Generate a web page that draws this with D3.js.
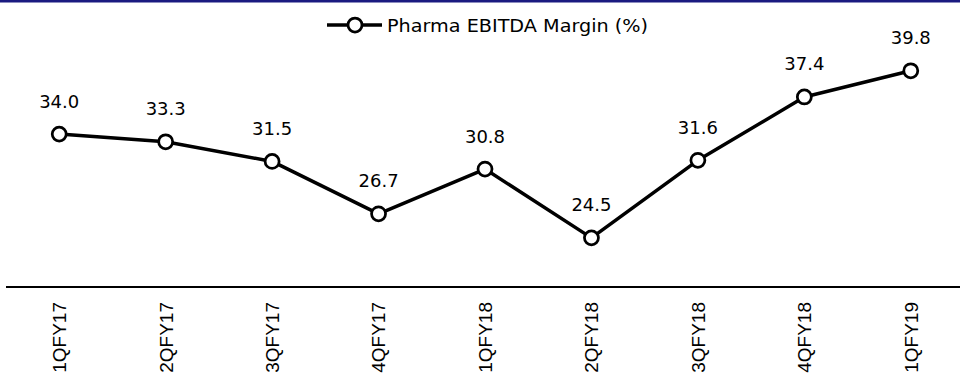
<!DOCTYPE html>
<html>
<head>
<meta charset="utf-8">
<script src="https://cdn.jsdelivr.net/npm/d3@7"></script>
<style>
  html, body { margin: 0; padding: 0; background: #fff; }
  svg { display: block; }
</style>
</head>
<body>
<svg id="chart" width="960" height="376"></svg>
<script>
const categories = ["1QFY17","2QFY17","3QFY17","4QFY17","1QFY18","2QFY18","3QFY18","4QFY18","1QFY19"];
const marginValues = [34.0, 33.3, 31.5, 26.7, 30.8, 24.5, 31.6, 37.4, 39.8];
const seriesName = "Pharma EBITDA Margin (%)";

const svg = d3.select("#chart");
const W = 960, H = 376;

// top rule
svg.append("rect").attr("x", 0).attr("y", 0).attr("width", W).attr("height", 2.5).attr("fill", "#1a1a80");

const x = d3.scaleBand().domain(categories).range([6, 964]).padding(0);
const y = d3.scaleLinear().domain([20, 45]).range([287, 14]);
const cx = d => x(d) + x.bandwidth() / 2;

// x axis
const axisG = svg.append("g").attr("transform", "translate(0,287)");
axisG.append("line").attr("x1", 6).attr("x2", 960).attr("y1", 0).attr("y2", 0)
  .attr("stroke", "#000").attr("stroke-width", 2);
const axis = d3.axisBottom(x).tickSize(0).tickPadding(0);
const ag = axisG.append("g").call(axis);
ag.select(".domain").remove();
ag.selectAll(".tick text")
  .attr("transform", "rotate(-90)")
  .attr("text-anchor", "end")
  .attr("x", -15)
  .attr("y", 0)
  .attr("dy", "0.36em")
  .attr("font-family", "'Liberation Sans', Arial, sans-serif")
  .attr("font-size", 19)
  .attr("fill", "#000");

// line
const line = d3.line().x((d, i) => cx(categories[i])).y(d => y(d));
svg.append("path").datum(marginValues).attr("d", line)
  .attr("fill", "none").attr("stroke", "#000").attr("stroke-width", 3.5).attr("stroke-linejoin", "round");

// markers
svg.selectAll("circle.pt").data(marginValues).enter().append("circle")
  .attr("class", "pt")
  .attr("cx", (d, i) => cx(categories[i]))
  .attr("cy", d => y(d))
  .attr("r", 7)
  .attr("fill", "#fff").attr("stroke", "#000").attr("stroke-width", 2.75);

// value labels
svg.selectAll("text.val").data(marginValues).enter().append("text")
  .attr("class", "val")
  .attr("x", (d, i) => cx(categories[i]))
  .attr("y", d => y(d) - 26.5)
  .attr("text-anchor", "middle")
  .attr("font-family", "'DejaVu Sans', sans-serif")
  .attr("font-size", 18)
  .attr("fill", "#000")
  .text(d => d.toFixed(1));

// legend
const lg = svg.append("g");
lg.append("line").attr("x1", 327).attr("x2", 382).attr("y1", 25).attr("y2", 25)
  .attr("stroke", "#000").attr("stroke-width", 3.5);
lg.append("circle").attr("cx", 355).attr("cy", 25).attr("r", 7)
  .attr("fill", "#fff").attr("stroke", "#000").attr("stroke-width", 2.75);
lg.append("text").attr("x", 387).attr("y", 31.5)
  .attr("font-family", "'DejaVu Sans', sans-serif")
  .attr("font-size", 18)
  .attr("textLength", 261).attr("lengthAdjust", "spacingAndGlyphs")
  .attr("fill", "#000")
  .text(seriesName);
</script>
</body>
</html>
